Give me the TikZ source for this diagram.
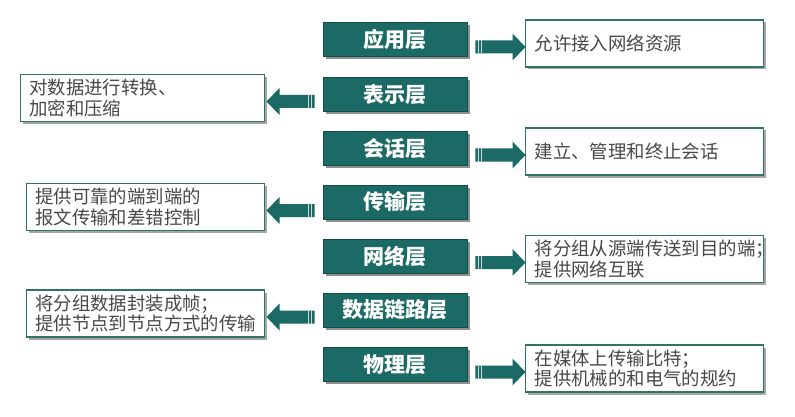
\documentclass[tikz,border=0pt]{standalone}
\usepackage{fontspec}
\newfontfamily\cjk{Noto Sans CJK SC}
\usetikzlibrary{shadows,calc}
\definecolor{teal1}{RGB}{28,106,101}
\definecolor{tealdark}{RGB}{18,80,76}
\definecolor{descborder}{RGB}{50,115,105}
\definecolor{desctext}{RGB}{72,72,72}
\tikzset{
  layer/.style={fill=teal1, draw=tealdark, line width=0.6pt, minimum width=144pt, minimum height=34pt,
    inner sep=0pt, text=white, font=\cjk\bfseries\fontsize{21}{24}\selectfont,
    drop shadow={shadow xshift=2.5pt, shadow yshift=-2.5pt, opacity=0.55, fill=black!80}},
  desc/.style={fill=white, draw=descborder, line width=1.4pt, minimum height=47pt,
    inner xsep=9pt, inner ysep=0pt, align=left, text=desctext,
    font=\cjk\fontsize{18.4}{20.5}\selectfont,
    drop shadow={shadow xshift=2.5pt, shadow yshift=-2.5pt, opacity=0.5, fill=black!70}},
  rdesc/.style={desc, text width=220pt},
  ldesc/.style={desc, text width=220pt},
  arrowc/.style={fill=teal1},
  stripe/.style={draw=white, line width=0.9pt, opacity=0.75}
}
\newcommand\rarr[2]{%
  \fill[arrowc] let \p1=(#1.east), \p2=($(#2.west)+(0.5,3.5)$) in
    (\x1+8pt,\y2+6.5pt) -- (\x2-13pt,\y2+6.5pt) -- (\x2-13pt,\y2+13.5pt) -- (\x2,\y2)
    -- (\x2-13pt,\y2-13.5pt) -- (\x2-13pt,\y2-6.5pt) -- (\x1+8pt,\y2-6.5pt) -- cycle;
  \draw[stripe] let \p1=(#1.east), \p2=($(#2.west)+(0.5,3.5)$) in
    (\x1+10.8pt,\y2+6.5pt) -- (\x1+10.8pt,\y2-6.5pt)
    (\x1+14pt,\y2+6.5pt) -- (\x1+14pt,\y2-6.5pt);
}
\newcommand\larr[2]{%
  \fill[arrowc] let \p1=(#1.west), \p2=($(#2.east)+(1.5,3.5)$) in
    (\x1-8pt,\y2+6.5pt) -- (\x2+13pt,\y2+6.5pt) -- (\x2+13pt,\y2+13.5pt) -- (\x2,\y2)
    -- (\x2+13pt,\y2-13.5pt) -- (\x2+13pt,\y2-6.5pt) -- (\x1-8pt,\y2-6.5pt) -- cycle;
  \draw[stripe] let \p1=(#1.west), \p2=($(#2.east)+(1.5,3.5)$) in
    (\x1-10.8pt,\y2+6.5pt) -- (\x1-10.8pt,\y2-6.5pt)
    (\x1-14pt,\y2+6.5pt) -- (\x1-14pt,\y2-6.5pt);
}
\begin{document}
\begin{tikzpicture}[x=1pt,y=-1pt]
\useasboundingbox[fill=white] (0,0) rectangle (795,417);
% layers
\node[layer] (L1) at (395,39.5) {应用层};
\node[layer] (L2) at (395,94.5) {表示层};
\node[layer] (L3) at (395,148.5) {会话层};
\node[layer] (L4) at (395,202) {传输层};
\node[layer] (L5) at (395,256) {网络层};
\node[layer] (L6) at (395,310) {数据链路层};
\node[layer] (L7) at (395,364.5) {物理层};
% right descriptions
\node[rdesc, anchor=west] (D1) at (525,43.5) {允许接入网络资源};
\node[rdesc, anchor=west] (D3) at (525,151.5) {建立、管理和终止会话};
\node[rdesc, anchor=west] (D5) at (525,259) {将分组从源端传送到目的端；\\提供网络互联};
\node[rdesc, anchor=west] (D7) at (525,368.5) {在媒体上传输比特；\\提供机械的和电气的规约};
% left descriptions
\node[ldesc, anchor=east, text width=226pt] (D2) at (265,98) {对数据进行转换、\\加密和压缩};
\node[ldesc, anchor=east] (D4) at (265,207) {提供可靠的端到端的\\报文传输和差错控制};
\node[ldesc, anchor=east] (D6) at (265,313.5) {将分组数据封装成帧；\\提供节点到节点方式的传输};
% arrows
\rarr{L1}{D1}
\rarr{L3}{D3}
\rarr{L5}{D5}
\rarr{L7}{D7}
\larr{L2}{D2}
\larr{L4}{D4}
\larr{L6}{D6}
\end{tikzpicture}
\end{document}
